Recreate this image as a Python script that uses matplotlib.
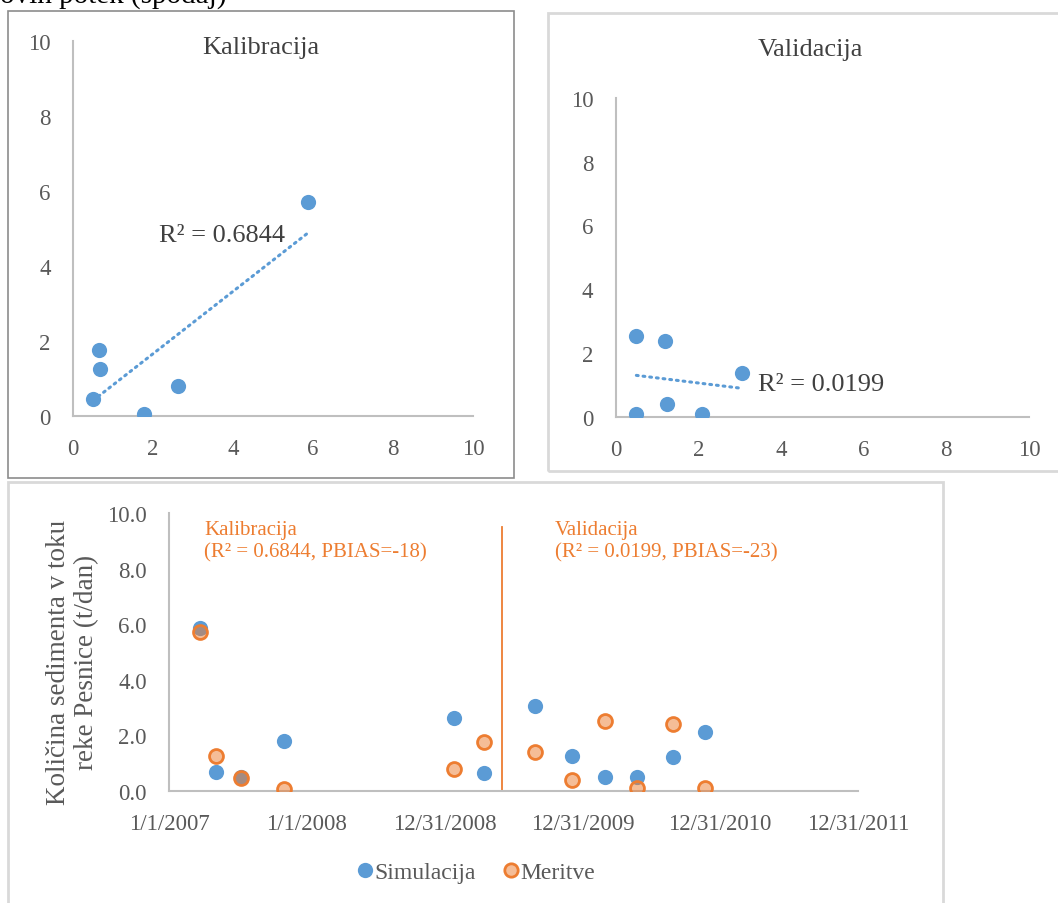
import numpy as np
import pandas as pd
import matplotlib
matplotlib.use("Agg")
import matplotlib.pyplot as plt
from matplotlib.patches import Rectangle
from matplotlib.lines import Line2D

plt.rcParams['font.family'] = ['Liberation Serif', 'DejaVu Serif']

# kalibracija (simulacija, meritve)
cal_dates = ['2007-03-24', '2007-05-05', '2007-07-10', '2007-11-01', '2009-01-25', '2009-04-14']
cal_sim = [5.88, 0.67, 0.5, 1.78, 2.63, 0.64]
cal_obs = [5.72, 1.25, 0.46, 0.05, 0.8, 1.76]

# validacija
val_dates = ['2009-08-27', '2009-12-03', '2010-03-02', '2010-05-25', '2010-08-28', '2010-11-22']
val_sim = [3.05, 1.25, 0.5, 0.5, 1.2, 2.1]
val_obs = [1.38, 0.4, 2.52, 0.1, 2.39, 0.1]

split_date = '2009-05-31'
cal_r2 = 'R² = 0.6844'
val_r2 = 'R² = 0.0199'
cal_note = 'Kalibracija\n(R² = 0.6844, PBIAS=-18)'
val_note = 'Validacija\n(R² = 0.0199, PBIAS=-23)'
date_ticks = ['2007-01-01', '2008-01-01', '2008-12-31', '2009-12-31', '2010-12-31', '2011-12-31']
date_labels = ['1/1/2007', '1/1/2008', '12/31/2008', '12/31/2009', '12/31/2010', '12/31/2011']

BLUE = '#5b9bd5'
ORANGE = '#ed7d31'
ORANGE_FILL = (237/255, 125/255, 49/255, 0.5)
TXT = '#595959'
AX = '#bfbfbf'

fig = plt.figure(figsize=(10.58, 9.04), dpi=100)

# okvirji
fig.patches.append(Rectangle((8/1058, 1-479/904), 506/1058, 467/904, transform=fig.transFigure,
                             fill=False, edgecolor='#8c8c8c', lw=1.2))
fig.patches.append(Rectangle((548/1058, 1-472/904), 560/1058, 458/904, transform=fig.transFigure,
                             fill=False, edgecolor='#d9d9d9', lw=2))
fig.patches.append(Rectangle((8/1058, -0.05), 935/1058, 0.05+1-483/904, transform=fig.transFigure,
                             fill=False, edgecolor='#d9d9d9', lw=2))

fig.text(0.0, 1-3/904, 'ovih potek (spodaj)', fontsize=21, color='black', ha='left', va='baseline')


def style(ax):
    for s in ['top', 'right']:
        ax.spines[s].set_visible(False)
    for s in ['left', 'bottom']:
        ax.spines[s].set_color(AX)
        ax.spines[s].set_linewidth(1.5)
    ax.tick_params(length=0, pad=16, labelsize=16.5, labelcolor=TXT)


def scatter_panel(rect, sim, obs, r2, r2pos):
    ax = fig.add_axes(rect)
    ax.scatter(sim, obs, s=120, color=BLUE, zorder=3, linewidths=0)
    k, n = np.polyfit(sim, obs, 1)
    xs = np.array([min(sim), max(sim)])
    ax.plot(xs, k*xs + n, color=BLUE, lw=2.2, linestyle=(0, (0.6, 1.6)),
            dash_capstyle='round', zorder=2)
    ax.set_xlim(0, 10)
    ax.set_ylim(0, 10)
    ax.set_xticks([0, 2, 4, 6, 8, 10])
    ax.set_yticks([0, 2, 4, 6, 8, 10])
    ax.text(r2pos[0], r2pos[1], r2, transform=ax.transAxes, fontsize=19,
            color='#404040', ha='center', va='center')
    style(ax)
    return ax


scatter_panel([73/1058, 1-417/904, 400/1058, 375/904], cal_sim, cal_obs, cal_r2, (0.3725, 0.483))
scatter_panel([615.7/1058, 1-417.7/904, 413.3/1058, 318.7/904], val_sim, val_obs, val_r2, (0.498, 0.103))

fig.text(261/1058, 1-48/904, 'Kalibracija', fontsize=19, color='#404040', ha='center', va='center')
fig.text(810/1058, 1-50/904, 'Validacija', fontsize=19, color='#404040', ha='center', va='center')

# casovni potek
ax3 = fig.add_axes([169/1058, 1-791.7/904, 689/1058, 277.4/904])
dates = pd.to_datetime(cal_dates).append(pd.to_datetime(val_dates))
sim = cal_sim + val_sim
obs = cal_obs + val_obs
ax3.scatter(dates, sim, s=120, color=BLUE, linewidths=0, zorder=3, label='Simulacija')
ax3.scatter(dates, obs, s=100, facecolor=ORANGE_FILL, edgecolor=ORANGE,
            linewidths=2, zorder=4, label='Meritve')
ax3.axvline(pd.Timestamp(split_date), ymin=0, ymax=0.95, color=ORANGE, lw=1.3, zorder=2)
ax3.set_xlim(pd.Timestamp('2007-01-01'), pd.Timestamp('2011-12-31'))
ax3.set_ylim(0, 10)
ax3.set_yticks([0, 2, 4, 6, 8, 10])
ax3.set_yticklabels(['%.1f' % v for v in [0, 2, 4, 6, 8, 10]])
ax3.set_xticks(pd.to_datetime(date_ticks))
ax3.set_xticklabels(date_labels)
style(ax3)

fig.text(204/1058, 1-542/904, cal_note, fontsize=15, color=ORANGE, ha='left', va='center', linespacing=1.2)
fig.text(555/1058, 1-542/904, val_note, fontsize=15, color=ORANGE, ha='left', va='center', linespacing=1.2)

fig.text(72.5/1058, 1-662/904, 'Količina sedimenta v toku\nreke Pesnice (t/dan)', fontsize=19.5,
         color=TXT, rotation=90, ha='center', va='center', multialignment='center', linespacing=1.15)

handles = [Line2D([], [], marker='o', ls='', markersize=11, markerfacecolor=BLUE, markeredgewidth=0),
           Line2D([], [], marker='o', ls='', markersize=9.6, markerfacecolor=ORANGE_FILL,
                  markeredgecolor=ORANGE, markeredgewidth=2)]
fig.legend(handles, ['Simulacija', 'Meritve'], loc='center', bbox_to_anchor=(474/1058, 1-873/904),
           ncol=2, frameon=False, fontsize=17, labelcolor=TXT, handletextpad=-0.1,
           columnspacing=1.0, handlelength=1.0)

fig.savefig('out.png', dpi=100)
